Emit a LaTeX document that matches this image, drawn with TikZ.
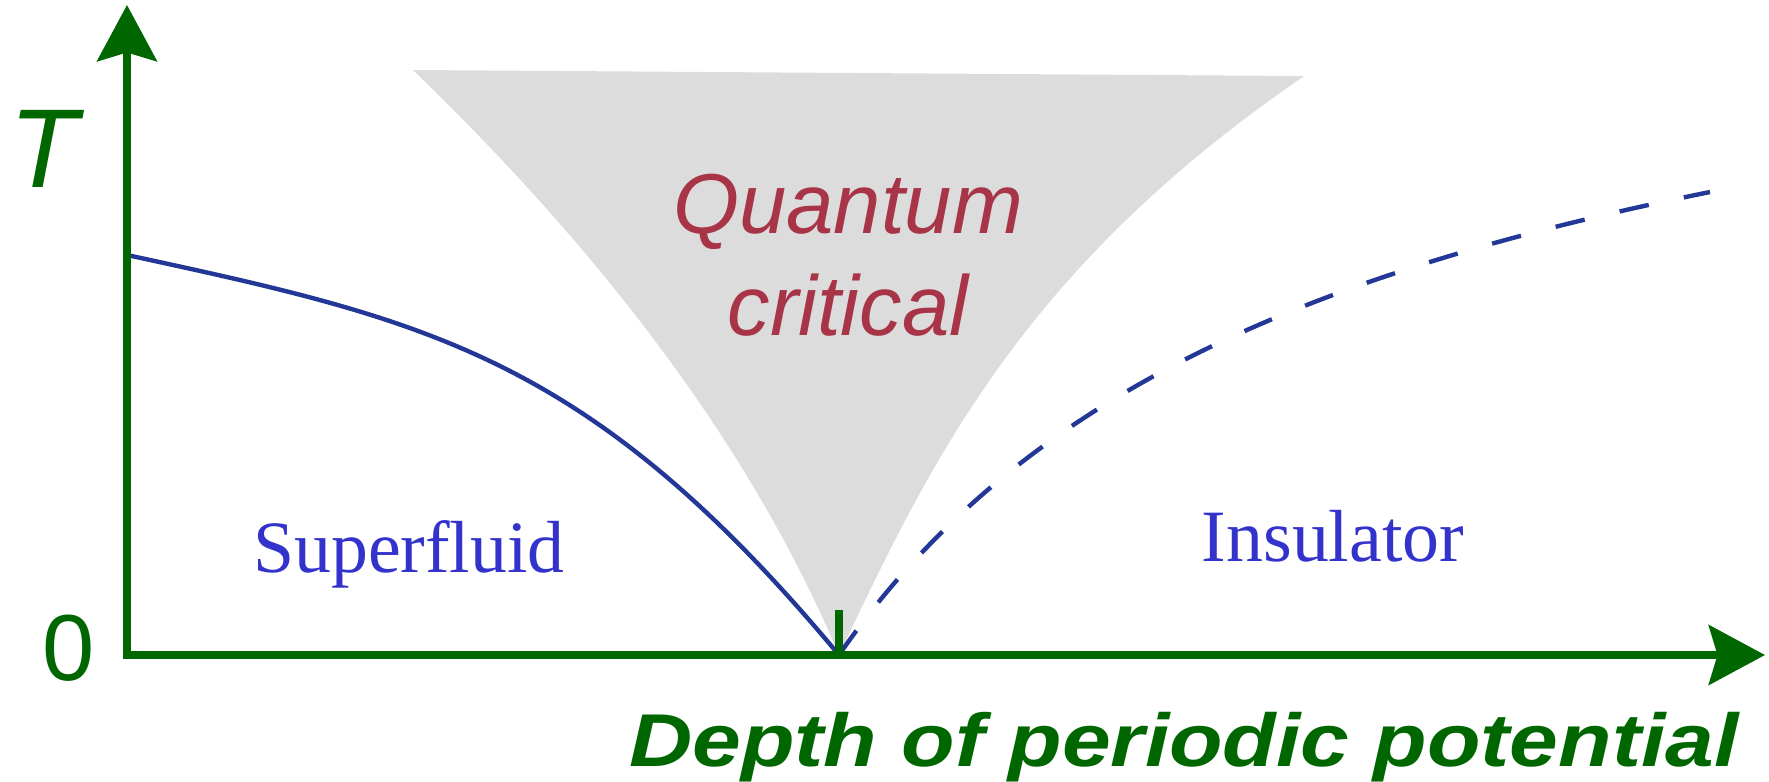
\documentclass[tikz,border=0pt]{standalone}
\usepackage{fontspec}
\setmainfont{Liberation Serif}
\setsansfont{Liberation Sans}
\usetikzlibrary{arrows.meta,positioning}
\definecolor{axisgreen}{RGB}{0,102,0}
\definecolor{lineblue}{RGB}{35,55,150}
\definecolor{phaseblue}{RGB}{51,51,204}
\definecolor{qcred}{RGB}{168,52,72}
\definecolor{qcgray}{RGB}{220,220,220}

\begin{document}
\begin{tikzpicture}[
  >={Stealth[length=16pt,width=17pt,inset=2.5pt]},
  axis/.style={draw=axisgreen,line width=2pt,<->},
  boundary/.style={draw=lineblue,line width=1.25pt},
  crossover/.style={boundary,dash pattern=on 8.5pt off 10.2pt},
  axislabel/.style={inner sep=0pt,text=axisgreen,font=\sffamily},
  phase/.style={inner sep=0pt,anchor=base,text=phaseblue,
                font=\fontsize{21}{25}\selectfont},
  qc/.style={inner sep=0pt,anchor=base,text=qcred,
             font=\sffamily\itshape\fontsize{24.2}{29}\selectfont}
]
\useasboundingbox (-1.27,-1.26) rectangle (16.42,6.55);
\coordinate (o) at (0,0);
\coordinate (qcp) at (7.12,0);
\coordinate (ytip) at (0,6.50);
\coordinate (xtip) at (16.38,0);
\coordinate (tc) at (0,4.00);
\coordinate (gapend) at (15.83,4.63);

\fill[qcgray] plot[domain=5.85:0,samples=40] ({7.12-0.42*\x-0.0527*\x*\x},\x)
  -- plot[domain=0:5.79,samples=40] ({7.12+0.474*\x+0.00982*\x*\x*\x},\x) -- cycle;

\node[qc] (quantum) at (7.21,4.22) {Quantum};
\node[qc] (critical) at ([yshift=-1.02cm]quantum.base) {critical};

\draw[boundary] (tc) .. controls (3,3.35) and (4.62,3.00) .. (qcp);
\draw[crossover] (qcp) .. controls (8.92,2.61) and (11.83,3.82) .. (gapend);

\draw[axis] (ytip) -- (o) -- (xtip);
\draw[draw=axisgreen,line width=2pt] (qcp) -- ++(0,0.45);

\node[axislabel,anchor=base,font=\sffamily\itshape\fontsize{31.9}{38}\selectfont]
  (tlabel) at (-0.83,4.68) {T};
\node[axislabel,anchor=base,font=\sffamily\fontsize{26.7}{32}\selectfont]
  (zero) at (-0.585,-0.25) {0};
\node[axislabel,anchor=base,xscale=1.17,
      font=\sffamily\bfseries\itshape\fontsize{21.3}{26}\selectfont]
  (xlabel) at (10.57,-1.11) {Depth of periodic potential};

\node[phase] (superfluid) at (2.82,0.83) {Superfluid};
\node[phase] (insulator) at (12.06,0.94) {Insulator};
\end{tikzpicture}
\end{document}
